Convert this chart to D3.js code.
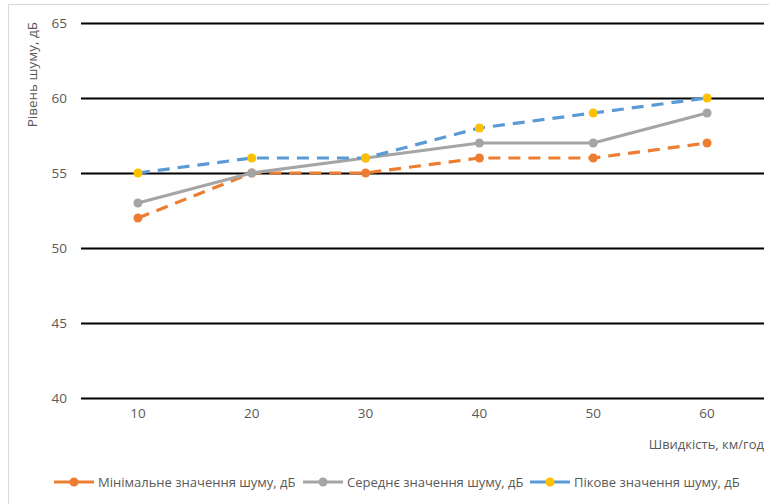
<!DOCTYPE html>
<html>
<head>
<meta charset="utf-8">
<script src="https://cdn.jsdelivr.net/npm/d3@7"></script>
<style>
  html, body { margin: 0; padding: 0; background: #fff; }
  svg text { font-family: "Open Sans", "Noto Sans", sans-serif; fill: #595959; }
</style>
</head>
<body>
<svg id="chart" width="769" height="504"></svg>
<script>
// Speeds (km/h) and noise levels (dB)
const speeds = [10, 20, 30, 40, 50, 60];
const minNoise = [52, 55, 55, 56, 56, 57];
const avgNoise = [53, 55, 56, 57, 57, 59];
const peakNoise = [55, 56, 56, 58, 59, 60];
const yTicks = [40, 45, 50, 55, 60, 65];
const seriesNames = [
  "Мінімальне значення шуму, дБ",
  "Середнє значення шуму, дБ",
  "Пікове значення шуму, дБ"
];
const xTitle = "Швидкість, км/год";
const yTitle = "Рівень шуму, дБ";

const svg = d3.select("#chart");
const W = 769, H = 504;
const plot = { left: 81, right: 764, top: 23, bottom: 398 };

// chart frame
svg.append("rect")
  .attr("x", 8.5).attr("y", 4.5)
  .attr("width", W + 10).attr("height", H + 10)
  .attr("fill", "none").attr("stroke", "#d9d9d9").attr("stroke-width", 1);

const x = d3.scaleBand().domain(speeds).range([plot.left, plot.right]);
const y = d3.scaleLinear().domain([40, 65]).range([plot.bottom, plot.top]);

// horizontal gridlines
const yAxis = d3.axisLeft(y).tickValues(yTicks).tickSize(-(plot.right - plot.left)).tickPadding(14);
const gy = svg.append("g").attr("transform", `translate(${plot.left},0)`).call(yAxis);
gy.select(".domain").remove();
gy.selectAll(".tick line").attr("stroke", "#000").attr("stroke-width", 2);
gy.selectAll(".tick text").style("font-size", "13.5px").attr("fill", "#595959");

// category labels
const xAxis = d3.axisBottom(x).tickSize(0).tickPadding(10);
const gx = svg.append("g").attr("transform", `translate(0,${plot.bottom})`).call(xAxis);
gx.select(".domain").remove();
gx.selectAll(".tick text").style("font-size", "13.5px").attr("fill", "#595959");

// axis titles
svg.append("text")
  .attr("x", plot.right).attr("y", 449)
  .attr("text-anchor", "end")
  .style("font-size", "13px")
  .text(xTitle);

svg.append("text")
  .attr("transform", "translate(37,22) rotate(-90)")
  .attr("text-anchor", "end")
  .style("font-size", "13.5px")
  .text(yTitle);

const series = [
  { name: seriesNames[0], values: minNoise, line: "#ED7D31", marker: "#ED7D31", dash: "12,8" },
  { name: seriesNames[1], values: avgNoise, line: "#A5A5A5", marker: "#A5A5A5", dash: null },
  { name: seriesNames[2], values: peakNoise, line: "#5B9BD5", marker: "#FFC000", dash: "12,8" }
];

const cx = d => x(d) + x.bandwidth() / 2;
const lineGen = d3.line().x(d => cx(d[0])).y(d => y(d[1]));

series.forEach(s => {
  const pts = speeds.map((sp, i) => [sp, s.values[i]]);
  svg.append("path")
    .datum(pts)
    .attr("d", lineGen)
    .attr("fill", "none")
    .attr("stroke", s.line)
    .attr("stroke-width", 3.2)
    .attr("stroke-dasharray", s.dash)
    .attr("stroke-linejoin", "round");
  svg.append("g").selectAll("circle")
    .data(pts)
    .join("circle")
    .attr("cx", d => cx(d[0]))
    .attr("cy", d => y(d[1]))
    .attr("r", 4.5)
    .attr("fill", s.marker);
});

// legend
const legendX = [54, 303, 530];
const lg = svg.append("g").attr("transform", "translate(0,482)");
series.forEach((s, i) => {
  const g = lg.append("g").attr("transform", `translate(${legendX[i]},0)`);
  g.append("line").attr("x1", 0).attr("x2", 40).attr("y1", 0).attr("y2", 0)
    .attr("stroke", s.line).attr("stroke-width", 3);
  g.append("circle").attr("cx", 20).attr("cy", 0).attr("r", 4.5).attr("fill", s.marker);
  g.append("text").attr("x", 44).attr("y", 4.5)
    .style("font-size", "13px")
    .text(s.name);
});
</script>
</body>
</html>
